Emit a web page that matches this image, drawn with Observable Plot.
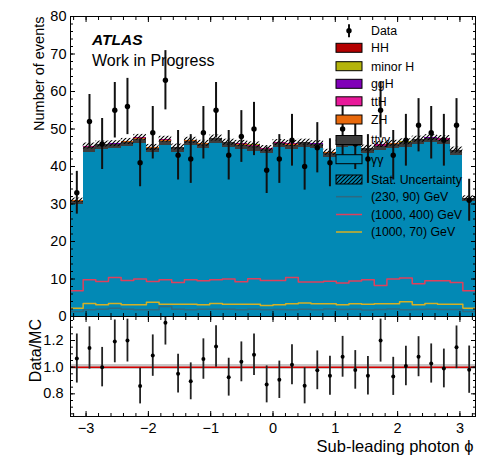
<!DOCTYPE html>
<html><head><meta charset="utf-8">
<script src="https://cdn.jsdelivr.net/npm/d3@7"></script>
<script src="https://cdn.jsdelivr.net/npm/@observablehq/plot@0.6"></script>
<style>
html,body{margin:0;padding:0;background:#fff;}
#chart{position:relative;width:478px;height:455px;font-family:"Liberation Sans",Arial,sans-serif;}
#chart svg{position:absolute;left:0;overflow:visible;}
</style></head><body><div id="chart"></div>
<script>
// ---- data ----
const nBins = 32;
const xLo = -3.25, xHi = 3.25;
const yy    = [30.0,43.8,44.6,44.7,45.3,46.1,43.7,45.6,43.8,45.6,44.8,46.2,45.1,44.5,44.1,43.4,45.0,44.5,45.1,44.7,42.4,45.0,45.3,43.5,44.2,44.8,45.2,45.9,46.3,45.8,43.0,30.6];
const ttyy  = [0.8,1.2,1.2,1.2,1.2,1.2,1.2,1.2,1.2,1.2,1.2,1.2,1.2,1.2,1.2,1.2,1.2,1.2,1.2,1.2,1.2,1.2,1.2,1.2,1.2,1.2,1.2,1.2,1.2,1.2,1.2,0.8];
const zh    = [0.04,0.04,0.04,0.04,0.04,0.04,0.04,0.04,0.04,0.04,0.04,0.04,0.04,0.04,0.04,0.04,0.04,0.04,0.04,0.04,0.04,0.04,0.04,0.04,0.04,0.04,0.04,0.04,0.04,0.04,0.04,0.04];
const ttH   = [0.03,0.3,0.03,0.03,0.03,0.3,0.03,0.3,0.03,0.03,0.03,0.03,0.03,0.3,0.3,0.03,0.03,0.3,0.03,0.03,0.03,0.03,0.3,0.03,0.3,0.03,0.03,0.03,0.03,0.3,0.03,0.03];
const ggH   = [0.06,0.06,0.06,0.06,0.06,0.06,0.06,0.06,0.06,0.06,0.06,0.06,0.06,0.06,0.06,0.06,0.06,0.06,0.06,0.06,0.06,0.06,0.06,0.06,0.06,0.06,0.06,0.06,0.06,0.06,0.06,0.06];
const minorH= [0.04,0.04,0.04,0.04,0.04,0.04,0.04,0.04,0.04,0.04,0.04,0.04,0.04,0.04,0.04,0.04,0.04,0.04,0.04,0.04,0.04,0.04,0.04,0.04,0.04,0.04,0.04,0.04,0.04,0.04,0.04,0.04];
const hh    = [0.02,0.02,0.02,0.02,0.02,0.02,0.02,0.02,0.02,0.02,0.02,0.02,0.02,0.02,0.02,0.02,0.02,0.02,0.02,0.02,0.02,0.02,0.02,0.02,0.02,0.02,0.02,0.02,0.02,0.02,0.02,0.02];
const mcStat= [0.6,0.8,0.8,0.8,0.8,0.8,0.8,0.8,0.8,0.8,0.8,0.8,0.8,0.8,0.8,0.8,0.8,0.8,0.8,0.8,0.8,0.8,0.8,0.8,0.8,0.8,0.8,0.8,0.8,0.8,0.8,0.6];
const dataN = [33,52,46,55,56,41,49,63,43,42,49,55,43,48,50,39,42,47,40,45,41,50,46,42,55,43,47,51,49,47,51,31];
const dataErr=[5.7,7.2,6.8,7.4,7.5,6.4,7.0,7.9,6.6,6.5,7.0,7.4,6.6,6.9,7.1,6.2,6.5,6.9,6.3,6.7,6.4,7.1,6.8,6.5,7.4,6.6,6.9,7.1,7.0,6.9,7.1,5.6];
const sig230_90  = [1.34,1.78,1.96,2.2,1.96,1.78,1.78,2.67,1.96,1.78,1.96,1.96,1.96,1.78,1.96,1.78,1.9,1.8,1.95,1.8,2.0,1.85,1.95,1.75,1.85,2.0,1.8,1.9,1.95,1.9,1.85,1.34];
const sig1000_400= [6.87,9.8,9.36,10.43,9.62,9.98,9.36,9.8,9.09,9.8,9.54,9.8,9.98,9.27,10.07,9.62,9.62,10.43,9.18,9.18,9.4,8.95,9.5,9.8,8.28,9.98,10.25,8.73,9.55,9.55,9.09,6.87];
const sig1000_70 = [2.2,3.5,3.12,3.45,3.12,3.12,3.8,3.3,3.3,3.3,3.12,3.5,3.3,3.3,3.3,2.94,3.12,3.39,3.57,3.39,3.39,3.12,3.39,3.3,3.39,3.39,3.95,3.12,3.48,3.3,3.3,2.2];
const xTicks = [-3,-2,-1,0,1,2,3];
const yTicks = [0,10,20,30,40,50,60,70,80];
const rTicks = [0.8,1.0,1.2];
const legendLabels = ["Data","HH","minor H","ggH","ttH","ZH","ttγγ","γγ","Stat. Uncertainty","(230, 90) GeV","(1000, 400) GeV","(1000, 70) GeV"];

// ---- derived ----
const FONT = '"Liberation Sans", Arial, sans-serif';
const edges = d3.range(nBins + 1).map(i => xLo + i * (xHi - xLo) / nBins);
const bins = d3.range(nBins).map(i => ({i, x1: edges[i], x2: edges[i + 1], xc: (edges[i] + edges[i + 1]) / 2}));
const COL = {yy:"#0289b5", ttyy:"#3d3d3d", zh:"#e8690c", ttH:"#c0107e", ggH:"#8000b8", minorH:"#b4b40c", hh:"#b40000",
             s1:"#2d6a82", s2:"#e0405c", s3:"#d6b024"};
const procs = [[yy,COL.yy],[ttyy,COL.ttyy],[zh,COL.zh],[ttH,COL.ttH],[ggH,COL.ggH],[minorH,COL.minorH],[hh,COL.hh]];
const stackRows = [];
const totals = bins.map(b => {
  let acc = 0;
  for (const [vals, color] of procs) {
    stackRows.push({x1: b.x1, x2: b.x2, y1: acc, y2: acc + vals[b.i], color});
    acc += vals[b.i];
  }
  return acc;
});
const hatchRows = bins.map(b => ({x1: b.x1, x2: b.x2, y1: totals[b.i] - mcStat[b.i], y2: totals[b.i] + mcStat[b.i]}));
const dataRows = bins.map(b => ({xc: b.xc, n: dataN[b.i], e: dataErr[b.i], r: dataN[b.i] / totals[b.i], re: dataErr[b.i] / totals[b.i]}));
const bandRows = bins.map(b => ({x1: b.x1, x2: b.x2, y1: 1 - mcStat[b.i] / totals[b.i], y2: 1 + mcStat[b.i] / totals[b.i]}));
const stepPts = vals => edges.map((x, i) => ({x, y: vals[Math.min(i, nBins - 1)]}));
const xMinor = d3.range(-16, 17).map(k => k / 5);
const yMinor = d3.range(0, 81, 2);
const rMinor = d3.range(13, 28).map(k => k / 20);

const chart = document.getElementById("chart");

// ---- top panel ----
const topPlot = Plot.plot({
  width: 478, height: 318,
  marginLeft: 70, marginRight: 3, marginTop: 16, marginBottom: 2,
  style: {fontFamily: FONT, fontSize: "14.5px", color: "#000", background: "transparent"},
  x: {domain: [xLo, xHi]},
  y: {domain: [0, 80]},
  color: {type: "identity"},
  marks: [
    Plot.rect(stackRows, {x1: "x1", x2: "x2", y1: "y1", y2: "y2", fill: "color", shapeRendering: "crispEdges", clip: true}),
    Plot.rect(hatchRows, {x1: "x1", x2: "x2", y1: "y1", y2: "y2", fill: "url(#hatch)", clip: true}),
    Plot.line(stepPts(sig1000_400), {x: "x", y: "y", curve: "step-after", stroke: COL.s2, strokeWidth: 1.5, clip: true}),
    Plot.line(stepPts(sig1000_70), {x: "x", y: "y", curve: "step-after", stroke: COL.s3, strokeWidth: 1.5, clip: true}),
    Plot.line(stepPts(sig230_90), {x: "x", y: "y", curve: "step-after", stroke: COL.s1, strokeWidth: 1.5, clip: true}),
    Plot.ruleX(dataRows, {x: "xc", y1: d => d.n - d.e, y2: d => d.n + d.e, stroke: "#111", strokeWidth: 2, clip: true}),
    Plot.dot(dataRows, {x: "xc", y: "n", r: 2.7, fill: "#000", stroke: "none", clip: true}),
    Plot.axisY(yTicks, {anchor: "left", tickSize: 0, tickPadding: 4, fontSize: 14.5, label: null}),
    Plot.axisY(yTicks, {anchor: "left", tickSize: 5, dx: 5, fill: "none"}),
    Plot.axisY(yMinor, {anchor: "left", tickSize: 3, dx: 3, fill: "none"}),
    Plot.axisY(yTicks, {anchor: "right", tickSize: 5, dx: -5, fill: "none"}),
    Plot.axisY(yMinor, {anchor: "right", tickSize: 3, dx: -3, fill: "none"}),
    Plot.axisX(xTicks, {anchor: "bottom", tickSize: 5, dy: -5, fill: "none"}),
    Plot.axisX(xMinor, {anchor: "bottom", tickSize: 3, dy: -3, fill: "none"}),
    Plot.axisX(xTicks, {anchor: "top", tickSize: 5, dy: 5, fill: "none"}),
    Plot.axisX(xMinor, {anchor: "top", tickSize: 3, dy: 3, fill: "none"}),
    Plot.frame({stroke: "#000", strokeWidth: 1}),
    Plot.text(["ATLAS"], {text: d => d, frameAnchor: "top-left", dx: 21.5, dy: 28, textAnchor: "start", lineAnchor: "bottom", fontSize: 15.5, fontWeight: "bold", fontStyle: "italic"}),
    Plot.text(["Work in Progress"], {text: d => d, frameAnchor: "top-left", dx: 21.5, dy: 49, textAnchor: "start", lineAnchor: "bottom", fontSize: 16}),
    Plot.text(["Number of events"], {text: d => d, frameAnchor: "top-left", dx: -27, dy: 0, rotate: -90, textAnchor: "end", lineAnchor: "bottom", fontSize: 14.5})
  ]
});
topPlot.style.top = "0px";
chart.appendChild(topPlot);
const defs = d3.select(topPlot).insert("defs", ":first-child");
const pat = defs.append("pattern").attr("id", "hatch").attr("patternUnits", "userSpaceOnUse").attr("width", 4).attr("height", 4);
pat.append("path").attr("d", "M-1,1 l2,-2 M0,4 l4,-4 M3,5 l2,-2").attr("stroke", "#000").attr("stroke-width", 1.1);

// ---- ratio panel ----
const bottomPlot = Plot.plot({
  width: 478, height: 140,
  marginLeft: 70, marginRight: 3, marginTop: 1, marginBottom: 39,
  style: {fontFamily: FONT, fontSize: "14.5px", color: "#000", background: "transparent"},
  x: {domain: [xLo, xHi]},
  y: {domain: [0.63, 1.38]},
  marks: [
    Plot.rect(bandRows, {x1: "x1", x2: "x2", y1: "y1", y2: "y2", fill: "#c8c8c8", shapeRendering: "crispEdges", clip: true}),
    Plot.ruleY([1], {stroke: "#d40000", strokeWidth: 1.5}),
    Plot.ruleX(dataRows, {x: "xc", y1: d => d.r - d.re, y2: d => d.r + d.re, stroke: "#222", strokeWidth: 1.8, clip: true}),
    Plot.dot(dataRows, {x: "xc", y: "r", r: 2, fill: "#000", stroke: "none", clip: true}),
    Plot.axisY(rTicks, {anchor: "left", tickSize: 0, tickPadding: 7, tickFormat: d3.format(".1f"), fontSize: 14.5, label: null}),
    Plot.axisY(rTicks, {anchor: "left", tickSize: 5, dx: 5, fill: "none"}),
    Plot.axisY(rMinor, {anchor: "left", tickSize: 3, dx: 3, fill: "none"}),
    Plot.axisY(rTicks, {anchor: "right", tickSize: 5, dx: -5, fill: "none"}),
    Plot.axisY(rMinor, {anchor: "right", tickSize: 3, dx: -3, fill: "none"}),
    Plot.axisX(xTicks, {anchor: "bottom", tickSize: 0, tickPadding: 6, fontSize: 14.5, label: null}),
    Plot.axisX(xTicks, {anchor: "bottom", tickSize: 5, dy: -5, fill: "none"}),
    Plot.axisX(xMinor, {anchor: "bottom", tickSize: 3, dy: -3, fill: "none"}),
    Plot.axisX(xTicks, {anchor: "top", tickSize: 5, dy: 5, fill: "none"}),
    Plot.axisX(xMinor, {anchor: "top", tickSize: 3, dy: 3, fill: "none"}),
    Plot.frame({stroke: "#000", strokeWidth: 1}),
    Plot.text(["Data/MC"], {text: d => d, frameAnchor: "top-left", dx: -29.5, dy: 2.5, rotate: -90, textAnchor: "end", lineAnchor: "bottom", fontSize: 16}),
    Plot.text(["Sub-leading photon ϕ"], {text: d => d, frameAnchor: "bottom-right", dx: -2, dy: 35.5, textAnchor: "end", lineAnchor: "bottom", fontSize: 16.5})
  ]
});
bottomPlot.style.top = "315px";
chart.appendChild(bottomPlot);

// ---- legend (overlay) ----
const leg = d3.select(chart).append("svg").attr("width", 478).attr("height", 250)
  .style("top", "0px").style("pointer-events", "none");
const rowsY = [30.7, 47.8, 66.2, 83.8, 101.3, 119.5, 140, 159.2, 179.5, 196.7, 214.5, 232];
const sx = 336, sw = 26, sh = 9, tx = 371;
const swatch = [null, COL.hh, COL.minorH, COL.ggH, "#e8199a", COL.zh, COL.ttyy, COL.yy, "url(#hatch)"];
const lineCols = [COL.s1, COL.s2, COL.s3];
legendLabels.forEach((lab, i) => {
  const cy = rowsY[i];
  if (i === 0) {
    leg.append("line").attr("x1", sx + 13).attr("x2", sx + 13).attr("y1", cy - 6.5).attr("y2", cy + 6.5).attr("stroke", "#111").attr("stroke-width", 2);
    leg.append("circle").attr("cx", sx + 13).attr("cy", cy).attr("r", 2.7).attr("fill", "#000");
  } else if (i <= 8) {
    leg.append("rect").attr("x", sx).attr("y", cy - sh / 2).attr("width", sw).attr("height", sh)
      .attr("fill", swatch[i]).attr("stroke", "#000").attr("stroke-width", 1);
  } else {
    leg.append("line").attr("x1", sx).attr("x2", sx + sw).attr("y1", cy).attr("y2", cy)
      .attr("stroke", lineCols[i - 9]).attr("stroke-width", 1.5);
  }
  leg.append("text").attr("x", tx).attr("y", cy).attr("dy", "0.36em")
    .attr("font-family", FONT).attr("font-size", 12.3).attr("fill", "#000").text(lab);
});
</script>
</body></html>
